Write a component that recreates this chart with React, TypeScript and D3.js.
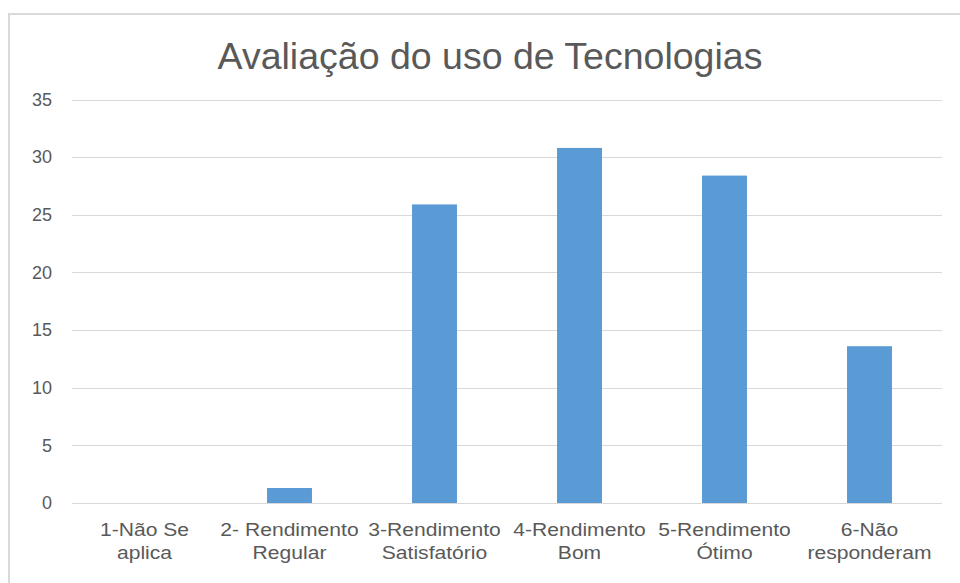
import * as d3 from 'd3';
import { useEffect, useRef } from 'react';

const categories = [
  ['1-Não Se', 'aplica'],
  ['2- Rendimento', 'Regular'],
  ['3-Rendimento', 'Satisfatório'],
  ['4-Rendimento', 'Bom'],
  ['5-Rendimento', 'Ótimo'],
  ['6-Não', 'responderam'],
];
const values = [0, 1.3, 25.9, 30.8, 28.4, 13.6];
const yTicks = [0, 5, 10, 15, 20, 25, 30, 35];
const title = 'Avaliação do uso de Tecnologias';

export default function App() {
  const ref = useRef<SVGSVGElement>(null);

  useEffect(() => {
    const svg = d3.select(ref.current);
    svg.selectAll('*').remove();

    const width = 960, height = 583;
    const margin = { top: 99.5, right: 18, bottom: 80, left: 72 };
    const textColor = '#595959';
    const font = "'Liberation Sans', Arial, sans-serif";

    // chart frame
    svg.append('rect')
      .attr('x', 9).attr('y', 14)
      .attr('width', 980).attr('height', 600)
      .attr('fill', '#fff')
      .attr('stroke', '#d9d9d9').attr('stroke-width', 2);

    svg.append('text')
      .attr('x', 490).attr('y', 69)
      .attr('text-anchor', 'middle')
      .attr('font-family', font).attr('font-size', 37.5)
      .attr('fill', textColor)
      .text(title);

    const x = d3.scaleBand<number>()
      .domain(d3.range(values.length))
      .range([margin.left, width - margin.right])
      .paddingInner(0.69).paddingOuter(0.345);
    const y = d3.scaleLinear().domain([0, 35]).range([height - margin.bottom, margin.top]);

    const g = svg.append('g');
    g.selectAll('.grid')
      .data(yTicks)
      .enter().append('line')
      .attr('x1', margin.left).attr('x2', width - margin.right)
      .attr('y1', d => Math.round(y(d)) + 0.5).attr('y2', d => Math.round(y(d)) + 0.5)
      .attr('stroke', '#d9d9d9').attr('stroke-width', 1);

    g.selectAll('.ytick')
      .data(yTicks)
      .enter().append('text')
      .attr('x', 52).attr('y', d => y(d))
      .attr('dy', '0.35em')
      .attr('text-anchor', 'end')
      .attr('font-family', font).attr('font-size', 18)
      .attr('fill', textColor)
      .text(d => d);

    g.selectAll('.bar')
      .data(values)
      .enter().append('rect')
      .attr('x', (d, i) => x(i)!)
      .attr('y', d => y(d))
      .attr('width', x.bandwidth())
      .attr('height', d => y(0) - y(d))
      .attr('fill', '#5b9bd5');

    // category labels, slightly widened like the original
    const labels = g.selectAll('.cat')
      .data(categories)
      .enter().append('text')
      .attr('transform', (d, i) => `translate(${x(i)! + x.bandwidth() / 2},0) scale(1.14,1)`)
      .attr('text-anchor', 'middle')
      .attr('font-family', font).attr('font-size', 18.5)
      .attr('fill', textColor);
    labels.selectAll('tspan')
      .data(d => d)
      .enter().append('tspan')
      .attr('x', 0)
      .attr('y', (d, j) => 536 + j * 23.5)
      .text(d => d);
  }, []);

  return (
    <svg ref={ref} width={960} height={583} style={{ position: 'absolute', left: 0, top: 0 }}></svg>
  );
}
